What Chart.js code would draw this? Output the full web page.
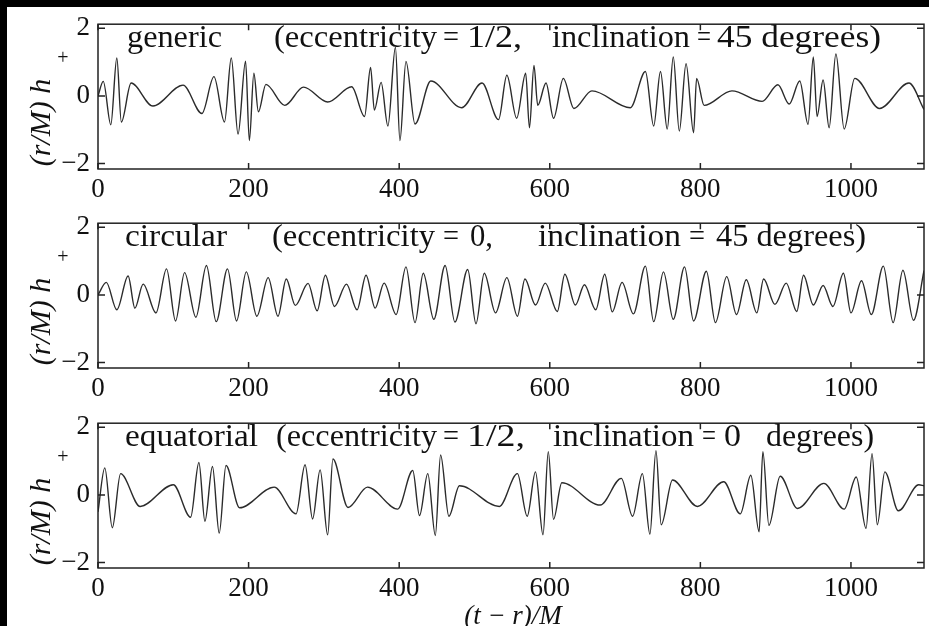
<!DOCTYPE html>
<html>
<head>
<meta charset="utf-8">
<script src="https://cdn.jsdelivr.net/npm/chart.js@4/dist/chart.umd.min.js"></script>
<style>
  html, body { margin: 0; padding: 0; background: #000; width: 929px; height: 626px; overflow: hidden; }
  #page { position: absolute; left: 7px; top: 7px; width: 922px; height: 619px; background: #fff; }
  canvas { position: absolute; left: 0; }
</style>
</head>
<body>
<div id="page"></div>
<canvas id="generic" width="929" height="200" style="top:0px"></canvas>
<canvas id="circular" width="929" height="200" style="top:199px"></canvas>
<canvas id="equatorial" width="929" height="227" style="top:399px"></canvas>
<script>
// tick values
const xTicks = [0, 200, 400, 600, 800, 1000];
const yTicks = [-2, 0, 2];

// generic orbit (eccentricity 1/2, inclination 45)
const genericT = [0, 7, 17, 25, 31, 44, 73, 113, 138, 154,
  168, 177, 186, 196, 201, 207, 213, 223, 248, 273,
  305, 337, 354, 362, 367, 376, 385, 395, 401, 409,
  421, 442, 483, 510, 532, 543, 556, 568, 573, 579,
  584, 595, 605, 618, 632, 656, 707, 727, 738, 747,
  756, 764, 772, 781, 791, 795, 805, 842, 882, 903,
  918, 932, 943, 950, 955, 963, 971, 980, 991, 1005,
  1038, 1077, 1097];
const genericH = [0, 0.43, -0.85, 1.12, -0.77, 0.38, -0.30, 0.32, -0.52, 0.57,
  -0.77, 1.12, -1.13, 1.03, -1.32, 0.67, -0.47, 0.34, -0.28, 0.26,
  -0.18, 0.27, -0.61, 0.84, -0.42, 0.40, -0.89, 1.44, -1.32, 1.02,
  -0.83, 0.44, -0.35, 0.38, -0.70, 0.61, -0.66, 0.67, -0.94, 0.90,
  -0.28, 0.38, -0.66, 0.52, -0.37, 0.15, -0.35, 0.72, -0.89, 0.72,
  -0.98, 1.15, -1.04, 0.95, -1.09, 0.52, -0.28, 0.15, -0.16, 0.33,
  -0.24, 0.44, -0.84, 1.15, -0.61, 0.47, -0.94, 1.24, -0.98, 0.52,
  -0.37, 0.38, -0.40];

// circular orbit (eccentricity 0, inclination 45)
const circularT = [0, 11, 25, 40, 49, 60, 77, 91, 103, 115,
  130, 144, 157, 172, 184, 197, 211, 226, 239, 250,
  262, 279, 291, 302, 314, 330, 344, 356, 368, 380,
  396, 409, 421, 432, 446, 461, 474, 491, 502, 513,
  528, 543, 557, 567, 581, 594, 610, 620, 634, 646,
  661, 673, 683, 696, 711, 727, 738, 751, 764, 779,
  791, 808, 820, 835, 848, 861, 875, 884, 899, 914,
  928, 937, 950, 963, 976, 990, 1000, 1014, 1027, 1043,
  1056, 1069, 1083, 1097];
const circularH = [0, 0.37, -0.44, 0.56, -0.39, 0.32, -0.53, 0.77, -0.77, 0.66,
  -0.66, 0.87, -0.79, 0.77, -0.77, 0.68, -0.63, 0.51, -0.63, 0.47,
  -0.31, 0.34, -0.47, 0.58, -0.34, 0.32, -0.44, 0.58, -0.39, 0.35,
  -0.58, 0.83, -0.82, 0.64, -0.72, 0.87, -0.80, 0.75, -0.85, 0.64,
  -0.53, 0.51, -0.63, 0.47, -0.30, 0.35, -0.49, 0.61, -0.30, 0.30,
  -0.44, 0.61, -0.50, 0.37, -0.56, 0.85, -0.79, 0.68, -0.72, 0.83,
  -0.77, 0.70, -0.82, 0.54, -0.58, 0.45, -0.53, 0.47, -0.28, 0.35,
  -0.49, 0.58, -0.30, 0.28, -0.34, 0.64, -0.53, 0.42, -0.58, 0.85,
  -0.82, 0.73, -0.75, 0.72];

// equatorial orbit (eccentricity 1/2, inclination 0)
const equatorialT = [0, 9, 19, 30, 56, 100, 123, 134, 142, 152,
  161, 170, 188, 234, 263, 275, 285, 295, 305, 312,
  332, 358, 398, 418, 427, 438, 448, 455, 466, 480,
  533, 557, 570, 581, 591, 598, 605, 616, 667, 695,
  710, 723, 733, 741, 748, 763, 796, 831, 853, 867,
  878, 883, 891, 906, 929, 964, 991, 1007, 1020, 1028,
  1035, 1045, 1063, 1090, 1097];
const equatorialH = [-0.50, 0.80, -0.97, 0.63, -0.34, 0.30, -0.66, 0.96, -0.78, 0.84,
  -1.13, 0.87, -0.38, 0.23, -0.56, 0.89, -0.71, 0.74, -1.18, 1.06,
  -0.37, 0.23, -0.42, 0.72, -0.61, 0.63, -1.20, 1.18, -0.63, 0.27,
  -0.34, 0.63, -0.63, 0.68, -1.18, 1.28, -0.72, 0.36, -0.30, 0.49,
  -0.63, 0.63, -1.16, 1.31, -0.88, 0.44, -0.34, 0.39, -0.56, 0.58,
  -1.09, 1.28, -0.90, 0.55, -0.40, 0.34, -0.42, 0.53, -0.99, 1.22,
  -0.88, 0.68, -0.47, 0.30, 0.27];

const SERIF = '"Liberation Serif", "Times New Roman", serif';

/**
 * cadre, ticks vers l'interieur, textes du panneau
 */
const framePlugin = {
  id: 'frame',
  afterDraw(chart, args, opts) {
    const { ctx, chartArea: a, scales: { x, y } } = chart;
    ctx.save();
    ctx.strokeStyle = '#222';
    ctx.lineWidth = 1.5;
    ctx.strokeRect(a.left, a.top, a.right - a.left, a.bottom - a.top);
    ctx.beginPath();
    xTicks.forEach(v => {
      const p = x.getPixelForValue(v);
      ctx.moveTo(p, a.bottom); ctx.lineTo(p, a.bottom - 6);
      ctx.moveTo(p, a.top); ctx.lineTo(p, a.top + 6);
    });
    yTicks.forEach(v => {
      const p = y.getPixelForValue(v);
      ctx.moveTo(a.left, p); ctx.lineTo(a.left + 7, p);
      ctx.moveTo(a.right, p); ctx.lineTo(a.right - 7, p);
    });
    ctx.stroke();

    ctx.fillStyle = '#111';
    ctx.textBaseline = 'alphabetic';
    ctx.textAlign = 'left';
    ctx.font = '32px ' + SERIF;
    opts.pieces.forEach(([s, x0, x1]) => {
      const w = ctx.measureText(s).width;
      ctx.save();
      ctx.translate(x0, a.top + 23);
      ctx.scale((x1 - x0) / w, 1);
      ctx.fillText(s, 0, 0);
      ctx.restore();
    });

    // label axe y : (r/M) h+
    ctx.save();
    ctx.translate(50, a.top + 142);
    ctx.rotate(-Math.PI / 2);
    ctx.font = 'italic 30px ' + SERIF;
    ctx.fillText('(r/M) h', 0, 0);
    ctx.restore();
    ctx.font = '20px ' + SERIF;
    ctx.textAlign = 'center';
    ctx.textBaseline = 'middle';
    ctx.fillText('+', 63, a.top + 35);

    if (opts.xTitle) {
      ctx.font = 'italic 27px ' + SERIF;
      ctx.fillText('(t \u2212 r)/M', 513, 218);
    }
    ctx.restore();
  }
};

function waveChart(id, t, h, pieces, xTitle) {
  const canvas = document.getElementById(id);
  const H = canvas.height;
  return new Chart(canvas, {
    type: 'line',
    data: {
      datasets: [{
        data: t.map((v, i) => ({ x: v, y: h[i] })),
        borderColor: '#2b2b2b',
        borderWidth: 1.4,
        pointRadius: 0,
        cubicInterpolationMode: 'monotone',
        fill: false,
      }]
    },
    options: {
      responsive: false,
      animation: false,
      events: [],
      layout: { padding: { top: 19, right: 5, left: 0, bottom: 0 } },
      plugins: {
        legend: { display: false },
        tooltip: { enabled: false },
        frame: { pieces: pieces, xTitle: xTitle }
      },
      scales: {
        x: {
          type: 'linear',
          min: 0,
          max: 1097,
          grid: { display: false, drawTicks: false },
          border: { display: false },
          afterBuildTicks: s => { s.ticks = xTicks.map(v => ({ value: v })); },
          afterFit: s => { s.height = H - 169; },
          ticks: {
            padding: 5,
            autoSkip: false,
            maxRotation: 0,
            color: '#111',
            font: { family: SERIF, size: 27 },
            callback: v => String(v)
          }
        },
        y: {
          min: -2.16,
          max: 2.12,
          grid: { display: false, drawTicks: false },
          border: { display: false },
          afterBuildTicks: s => { s.ticks = yTicks.map(v => ({ value: v })); },
          afterFit: s => { s.width = 98; },
          ticks: {
            padding: 8,
            color: '#111',
            font: { family: SERIF, size: 27 },
            callback: v => (v < 0 ? '\u2212' + Math.abs(v) : String(v))
          }
        }
      }
    },
    plugins: [framePlugin]
  });
}

waveChart('generic', genericT, genericH, [
  ['generic', 127, 222], ['(eccentricity', 274, 437], ['=', 443, 459], ['1/2,', 467, 522],
  ['inclination', 552, 690], ['=', 697, 711], ['45 degrees)', 717, 881]
], false);

waveChart('circular', circularT, circularH, [
  ['circular', 125, 227], ['(eccentricity', 272, 435], ['=', 443, 459], ['0,', 470, 493],
  ['inclination', 538, 681], ['=', 689, 705], ['45 degrees)', 716, 866]
], false);

waveChart('equatorial', equatorialT, equatorialH, [
  ['equatorial', 125, 258], ['(eccentricity', 276, 437], ['=', 443, 459], ['1/2,', 467, 525],
  ['inclination', 553, 694], ['=', 702, 716], ['0', 724, 741], ['degrees)', 766, 874]
], true);
</script>
</body>
</html>
